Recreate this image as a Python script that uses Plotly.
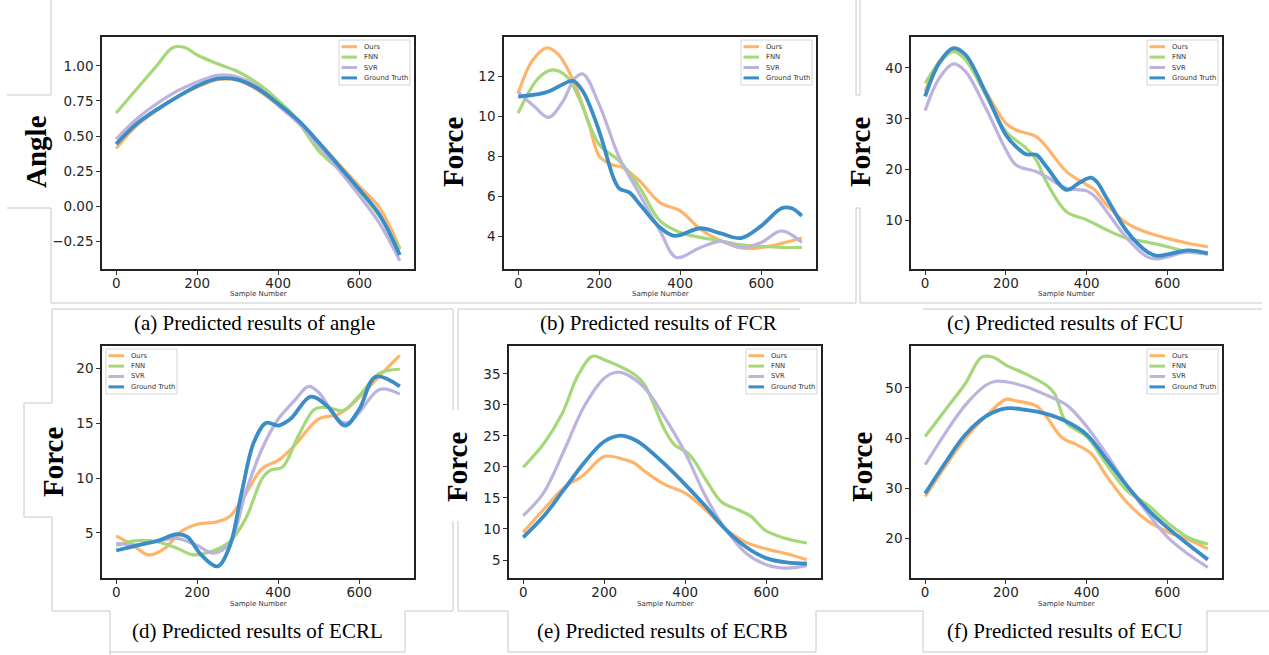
import plotly.graph_objects as go

W, H = 1269, 655

# ---------------- data: (a) angle ----------------
ANGLE_OURS_X = [0, 50, 100, 150, 200, 250, 300, 350, 400, 450, 500, 550, 600, 650, 700]
ANGLE_OURS_Y = [0.412, 0.574, 0.682, 0.778, 0.849, 0.902, 0.897, 0.825, 0.718, 0.598, 0.455, 0.30, 0.144, -0.01, -0.298]
ANGLE_FNN_X = [0, 50, 100, 140, 170, 200, 250, 300, 350, 400, 440, 500, 550, 600, 650, 700]
ANGLE_FNN_Y = [0.665, 0.833, 1.0, 1.13, 1.13, 1.077, 1.015, 0.96, 0.873, 0.754, 0.64, 0.395, 0.263, 0.108, -0.07, -0.306]
ANGLE_SVR_X = [0, 50, 100, 150, 200, 250, 300, 350, 400, 450, 500, 550, 600, 650, 700]
ANGLE_SVR_Y = [0.479, 0.62, 0.73, 0.82, 0.885, 0.933, 0.921, 0.85, 0.718, 0.59, 0.43, 0.26, 0.077, -0.12, -0.387]
ANGLE_GT_X = [0, 50, 100, 150, 200, 250, 300, 350, 400, 450, 500, 550, 600, 650, 700]
ANGLE_GT_Y = [0.443, 0.586, 0.689, 0.778, 0.857, 0.909, 0.902, 0.837, 0.730, 0.61, 0.455, 0.287, 0.12, -0.06, -0.346]

# ---------------- data: (b) FCR ----------------
FCR_OURS_X = [0, 35, 71, 100, 137, 175, 200, 230, 260, 300, 350, 400, 450, 500, 550, 600, 650, 700]
FCR_OURS_Y = [11.17, 12.8, 13.44, 13.08, 11.75, 9.6, 8.02, 7.6, 7.43, 6.77, 5.69, 5.28, 4.36, 3.78, 3.42, 3.45, 3.65, 3.92]
FCR_FNN_X = [0, 50, 85, 120, 150, 200, 250, 300, 350, 400, 450, 500, 550, 600, 650, 700]
FCR_FNN_Y = [10.17, 11.92, 12.33, 12.0, 10.92, 8.6, 7.77, 6.44, 4.78, 4.2, 3.95, 3.78, 3.58, 3.5, 3.45, 3.45]
FCR_SVR_X = [0, 40, 75, 110, 140, 160, 200, 250, 300, 350, 390, 450, 500, 550, 600, 650, 700]
FCR_SVR_Y = [11.22, 10.5, 9.96, 10.75, 11.92, 12.13, 10.6, 7.93, 6.1, 4.28, 2.95, 3.45, 3.75, 3.45, 3.7, 4.28, 3.7]
FCR_GT_X = [0, 50, 75, 100, 135, 160, 200, 235, 250, 275, 300, 350, 385, 450, 500, 550, 600, 650, 675, 700]
FCR_GT_Y = [11.0, 11.12, 11.25, 11.5, 11.78, 11.25, 9.26, 6.94, 6.39, 6.19, 5.61, 4.45, 4.03, 4.41, 4.15, 3.92, 4.53, 5.41, 5.41, 5.03]

# ---------------- data: (c) FCU ----------------
FCU_OURS_X = [0, 35, 70, 100, 150, 200, 225, 275, 300, 350, 400, 420, 450, 500, 550, 600, 650, 700]
FCU_OURS_Y = [35.4, 41.3, 43.6, 42.0, 35.4, 29.1, 27.8, 26.5, 24.5, 19.6, 17.0, 16.0, 13.0, 9.4, 7.6, 6.45, 5.5, 4.8]
FCU_FNN_X = [0, 35, 70, 100, 150, 200, 250, 275, 300, 350, 400, 450, 500, 550, 600, 650, 700]
FCU_FNN_Y = [37.0, 41.0, 43.2, 41.6, 34.7, 27.5, 24.2, 21.9, 17.6, 11.7, 10.1, 8.1, 6.45, 5.7, 4.8, 3.8, 3.5]
FCU_SVR_X = [0, 35, 70, 100, 150, 200, 225, 275, 300, 350, 400, 425, 450, 500, 550, 575, 600, 650, 700]
FCU_SVR_Y = [31.6, 38.0, 40.8, 39.3, 32.1, 23.9, 20.9, 19.6, 18.6, 16.3, 15.8, 14.3, 11.7, 6.45, 2.8, 2.4, 2.8, 3.8, 3.3]
FCU_GT_X = [0, 35, 70, 100, 150, 200, 225, 250, 275, 300, 350, 380, 410, 425, 450, 500, 550, 575, 600, 650, 700]
FCU_GT_Y = [34.4, 41.0, 43.9, 42.6, 35.1, 26.8, 24.5, 23.0, 22.9, 20.6, 16.0, 17.3, 18.4, 17.6, 14.3, 7.8, 3.8, 3.0, 3.3, 4.1, 3.5]

# ---------------- data: (d) ECRL ----------------
ECRL_OURS_X = [0, 40, 80, 120, 160, 200, 250, 280, 320, 360, 400, 440, 500, 550, 600, 650, 700]
ECRL_OURS_Y = [4.73, 3.91, 3.0, 3.6, 5.12, 5.79, 6.03, 6.5, 8.6, 10.87, 11.62, 12.98, 15.4, 15.86, 17.37, 19.33, 21.2]
ECRL_FNN_X = [0, 50, 100, 150, 190, 240, 280, 320, 360, 380, 410, 450, 490, 520, 560, 600, 650, 700]
ECRL_FNN_Y = [3.85, 4.3, 4.2, 3.6, 3.0, 3.37, 4.2, 6.33, 9.96, 10.72, 11.0, 13.9, 16.3, 16.46, 16.16, 17.52, 19.58, 19.94]
ECRL_SVR_X = [0, 50, 100, 150, 200, 240, 280, 320, 360, 400, 440, 475, 500, 550, 575, 600, 650, 700]
ECRL_SVR_Y = [4.06, 3.91, 4.2, 4.5, 3.85, 3.16, 4.06, 8.75, 12.68, 15.4, 17.07, 18.37, 17.82, 15.25, 15.1, 16.0, 18.1, 17.67]
ECRL_GT_X = [0, 50, 100, 150, 175, 210, 250, 280, 310, 340, 370, 400, 430, 480, 520, 565, 600, 640, 700]
ECRL_GT_Y = [3.4, 3.85, 4.27, 4.88, 4.67, 3.0, 1.95, 3.76, 8.75, 13.29, 15.04, 14.8, 15.4, 17.43, 16.6, 14.8, 16.31, 19.24, 18.37]

# ---------------- data: (e) ECRB ----------------
ECRB_OURS_X = [0, 50, 100, 150, 200, 250, 275, 300, 350, 400, 450, 500, 550, 600, 650, 700]
ECRB_OURS_Y = [9.5, 13.1, 16.6, 18.76, 21.7, 21.2, 20.6, 19.3, 17.15, 15.8, 13.1, 9.9, 7.85, 6.8, 6.0, 5.05]
ECRB_FNN_X = [0, 52, 97, 134, 171, 200, 275, 299, 324, 349, 373, 406, 423, 456, 489, 530, 563, 596, 646, 700]
ECRB_FNN_Y = [19.95, 23.87, 28.7, 34.6, 37.85, 37.3, 34.9, 33.3, 29.8, 26.0, 23.6, 22.26, 20.9, 17.4, 14.4, 13.1, 12.0, 9.84, 8.5, 7.74]
ECRB_SVR_X = [0, 50, 100, 150, 200, 230, 250, 300, 350, 400, 450, 500, 550, 600, 650, 700]
ECRB_SVR_Y = [12.15, 15.8, 22.5, 29.7, 34.3, 35.27, 35.05, 32.7, 27.9, 22.25, 15.3, 9.9, 6.1, 4.25, 3.7, 4.1]
ECRB_GT_X = [0, 50, 100, 150, 200, 240, 275, 300, 350, 400, 450, 500, 550, 600, 650, 700]
ECRB_GT_Y = [8.66, 12.0, 16.3, 20.65, 24.1, 25.05, 24.4, 23.3, 20.4, 17.15, 13.66, 9.9, 7.1, 5.3, 4.6, 4.4]

# ---------------- data: (f) ECU ----------------
ECU_OURS_X = [0, 50, 100, 150, 200, 225, 275, 300, 340, 375, 410, 450, 500, 550, 600, 650, 700]
ECU_OURS_Y = [28.4, 34.4, 40.0, 44.3, 47.7, 47.4, 46.4, 44.3, 40.0, 38.7, 37.0, 32.4, 27.2, 23.6, 21.4, 19.9, 18.0]
ECU_FNN_X = [0, 50, 100, 140, 170, 200, 250, 300, 320, 350, 400, 450, 500, 550, 600, 650, 700]
ECU_FNN_Y = [40.3, 45.6, 50.9, 56.1, 56.0, 54.5, 52.7, 50.5, 48.9, 43.0, 40.3, 34.7, 29.5, 26.8, 23.2, 20.3, 18.95]
ECU_SVR_X = [0, 50, 100, 150, 175, 200, 250, 300, 350, 400, 450, 500, 550, 600, 650, 700]
ECU_SVR_Y = [34.7, 41.0, 46.6, 50.5, 51.3, 51.2, 50.2, 48.55, 46.6, 42.3, 36.7, 30.5, 25.2, 20.3, 17.0, 14.3]
ECU_GT_X = [0, 50, 100, 150, 200, 250, 300, 350, 400, 450, 500, 550, 600, 650, 700]
ECU_GT_Y = [29.0, 35.1, 40.7, 44.3, 45.9, 45.6, 44.8, 43.3, 40.7, 35.7, 30.5, 25.9, 22.2, 18.95, 15.85]

SERIES_NAMES = ["Ours", "FNN", "SVR", "Ground Truth"]
X_TICKS = [0, 200, 400, 600]
ANGLE_TICKS = [-0.25, 0.0, 0.25, 0.5, 0.75, 1.0]
ANGLE_TICK_TEXT = ["\u22120.25", "0.00", "0.25", "0.50", "0.75", "1.00"]
FCR_TICKS = [4, 6, 8, 10, 12]
FCU_TICKS = [10, 20, 30, 40]
ECRL_TICKS = [5, 10, 15, 20]
ECRB_TICKS = [5, 10, 15, 20, 25, 30, 35]
ECU_TICKS = [20, 30, 40, 50]
CAPTIONS = [
    "(a) Predicted results of angle",
    "(b) Predicted results of FCR",
    "(c) Predicted results of FCU",
    "(d) Predicted results of ECRL",
    "(e) Predicted results of ECRB",
    "(f) Predicted results of ECU",
]
Y_LABELS = ["Angle", "Force", "Force", "Force", "Force", "Force"]

# ---------------- styling ----------------
COLORS = ["#ffb46a", "#a4d878", "#bcb3de", "#3b8dc8"]
WIDTHS = [3.2, 3.2, 3.2, 3.8]


def px(x):
    return x / W


def py(y):
    return 1 - y / H


# panel frames in pixels, y-range, ticks, label/caption positions, legend side
panels = [
    dict(frame=(102, 414, 37, 269), yr=[-0.445, 1.205], ticks=ANGLE_TICKS, ticktext=ANGLE_TICK_TEXT,
         series=[(ANGLE_OURS_X, ANGLE_OURS_Y), (ANGLE_FNN_X, ANGLE_FNN_Y), (ANGLE_SVR_X, ANGLE_SVR_Y), (ANGLE_GT_X, ANGLE_GT_Y)],
         ylab=(36, 152), cap=(254, 323), leg="right"),
    dict(frame=(504, 816, 37, 269), yr=[2.37, 13.98], ticks=FCR_TICKS, ticktext=None,
         series=[(FCR_OURS_X, FCR_OURS_Y), (FCR_FNN_X, FCR_FNN_Y), (FCR_SVR_X, FCR_SVR_Y), (FCR_GT_X, FCR_GT_Y)],
         ylab=(453, 152), cap=(658, 323), leg="right"),
    dict(frame=(911, 1222, 37, 269), yr=[0.42, 46.1], ticks=FCU_TICKS, ticktext=None,
         series=[(FCU_OURS_X, FCU_OURS_Y), (FCU_FNN_X, FCU_FNN_Y), (FCU_SVR_X, FCU_SVR_Y), (FCU_GT_X, FCU_GT_Y)],
         ylab=(860, 152), cap=(1065, 323), leg="right"),
    dict(frame=(102, 414, 346, 578), yr=[0.89, 22.06], ticks=ECRL_TICKS, ticktext=None,
         series=[(ECRL_OURS_X, ECRL_OURS_Y), (ECRL_FNN_X, ECRL_FNN_Y), (ECRL_SVR_X, ECRL_SVR_Y), (ECRL_GT_X, ECRL_GT_Y)],
         ylab=(53, 462), cap=(257, 631), leg="left"),
    dict(frame=(509, 821, 346, 578), yr=[2.1, 39.5], ticks=ECRB_TICKS, ticktext=None,
         series=[(ECRB_OURS_X, ECRB_OURS_Y), (ECRB_FNN_X, ECRB_FNN_Y), (ECRB_SVR_X, ECRB_SVR_Y), (ECRB_GT_X, ECRB_GT_Y)],
         ylab=(457, 467), cap=(662, 631), leg="right"),
    dict(frame=(911, 1222, 346, 578), yr=[12.2, 58.3], ticks=ECU_TICKS, ticktext=None,
         series=[(ECU_OURS_X, ECU_OURS_Y), (ECU_FNN_X, ECU_FNN_Y), (ECU_SVR_X, ECU_SVR_Y), (ECU_GT_X, ECU_GT_Y)],
         ylab=(862, 467), cap=(1065, 631), leg="right"),
]

fig = go.Figure()
shapes = []
annotations = []
layout_axes = {}

TICK_FONT = dict(family="DejaVu Sans", size=13.5, color="#262626")

for i, p in enumerate(panels, start=1):
    x0, x1, y0, y1 = p["frame"]
    xa = "x" if i == 1 else f"x{i}"
    ya = "y" if i == 1 else f"y{i}"
    for (sx, sy), name, col, lw in zip(p["series"], SERIES_NAMES, COLORS, WIDTHS):
        fig.add_trace(go.Scatter(
            x=sx, y=sy, mode="lines", name=name, showlegend=False,
            line=dict(color=col, width=lw, shape="spline", smoothing=1.0),
            xaxis=xa, yaxis=ya,
        ))
    xkey = "xaxis" if i == 1 else f"xaxis{i}"
    ykey = "yaxis" if i == 1 else f"yaxis{i}"
    layout_axes[xkey] = dict(
        domain=[px(x0), px(x1)], anchor=ya, range=[-35, 735],
        tickvals=X_TICKS, ticks="outside", ticklen=4, tickwidth=1, tickcolor="#333",
        ticklabelstandoff=-3,
        showline=True, mirror=True, linecolor="#222", linewidth=1.6,
        showgrid=False, zeroline=False, tickfont=TICK_FONT,
    )
    yax = dict(
        domain=[py(y1), py(y0)], anchor=xa, range=p["yr"],
        tickvals=p["ticks"], ticks="outside", ticklen=4, tickwidth=1, tickcolor="#333",
        showline=True, mirror=True, linecolor="#222", linewidth=1.6,
        showgrid=False, zeroline=False, tickfont=TICK_FONT,
    )
    if p["ticktext"] is not None:
        yax["ticktext"] = p["ticktext"]
    layout_axes[ykey] = yax

    # x-axis title
    annotations.append(dict(
        x=px((x0 + x1) / 2), y=py(y1 + 25.5), xref="paper", yref="paper",
        text="Sample Number", showarrow=False, xanchor="center", yanchor="middle",
        font=dict(family="DejaVu Sans", size=7, color="#333"),
    ))
    # y-axis label
    lx, ly = p["ylab"]
    annotations.append(dict(
        x=px(lx), y=py(ly), xref="paper", yref="paper", text=f"<b>{Y_LABELS[i-1]}</b>",
        showarrow=False, textangle=-90, xanchor="center", yanchor="middle",
        font=dict(family="Liberation Serif", size=29, color="#000"),
    ))
    # caption
    cx, cy = p["cap"]
    annotations.append(dict(
        x=px(cx), y=py(cy), xref="paper", yref="paper", text=CAPTIONS[i-1],
        showarrow=False, xanchor="center", yanchor="middle",
        font=dict(family="Liberation Serif", size=21, color="#000"),
    ))

    # legend box
    bw, bh = 71, 45
    if p["leg"] == "right":
        bx0 = x1 - 4 - bw
    else:
        bx0 = x0 + 4
    by0 = y0 + 3
    shapes.append(dict(
        type="rect", xref="paper", yref="paper",
        x0=px(bx0), x1=px(bx0 + bw), y0=py(by0 + bh), y1=py(by0),
        line=dict(color="#d4d4d4", width=1), fillcolor="rgba(255,255,255,0.85)", layer="above",
    ))
    for k, (name, col) in enumerate(zip(SERIES_NAMES, COLORS)):
        ry = by0 + 6.7 + k * 10.4
        shapes.append(dict(
            type="line", xref="paper", yref="paper",
            x0=px(bx0 + 2.5), x1=px(bx0 + 18), y0=py(ry), y1=py(ry),
            line=dict(color=col, width=3), layer="above",
        ))
        annotations.append(dict(
            x=px(bx0 + 23), y=py(ry), xref="paper", yref="paper", text=name,
            showarrow=False, xanchor="left", yanchor="middle",
            font=dict(family="DejaVu Sans", size=6.8, color="#333"),
        ))

# light frame lines of the surrounding page layout
BORDER_SEGMENTS = [
    (51, 0, 51, 95), (7, 95, 51, 95), (7, 208, 51, 208), (51, 208, 51, 303),
    (51, 303, 856, 303), (856, 0, 856, 95), (860, 0, 860, 95), (856, 95, 860, 95),
    (856, 208, 860, 208), (856, 208, 856, 303), (860, 208, 860, 303), (860, 303, 1262, 303),
    (52, 309, 453, 309), (52, 309, 52, 403), (458, 309, 800, 309), (923, 309, 1262, 309),
    (453, 309, 453, 410), (458, 309, 458, 410),
    (24, 403, 52, 403), (24, 403, 24, 517), (24, 517, 52, 517), (52, 517, 52, 611),
    (52, 611, 110, 611), (110, 611, 110, 655), (405, 611, 405, 652), (110, 652, 405, 652),
    (405, 611, 453, 611), (453, 521, 453, 611), (458, 521, 458, 611),
    (458, 611, 508, 611), (508, 611, 508, 652), (816, 611, 816, 652), (508, 652, 816, 652),
    (816, 611, 923, 611), (923, 611, 923, 652), (1207, 611, 1207, 652), (923, 652, 1207, 652),
    (1207, 611, 1269, 611),
]
for (ax0, ay0, ax1, ay1) in BORDER_SEGMENTS:
    shapes.append(dict(
        type="line", xref="paper", yref="paper",
        x0=px(ax0), x1=px(ax1), y0=py(ay0), y1=py(ay1),
        line=dict(color="#c8c8c8", width=1), layer="below",
    ))

fig.update_layout(
    width=W, height=H, margin=dict(l=0, r=0, t=0, b=0),
    paper_bgcolor="white", plot_bgcolor="white",
    showlegend=False, shapes=shapes, annotations=annotations,
    **layout_axes,
)

fig.write_html("out.html")
